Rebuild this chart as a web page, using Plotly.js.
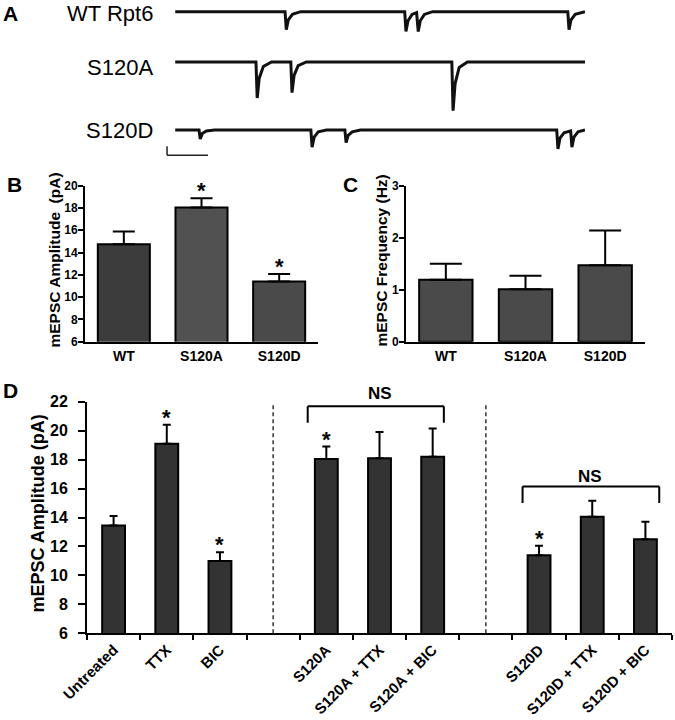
<!DOCTYPE html>
<html><head><meta charset="utf-8">
<script src="https://cdn.plot.ly/plotly-3.0.1.min.js"></script>
<style>html,body{margin:0;padding:0;background:#fff}#chart{width:675px;height:720px}</style>
</head><body><div id="chart"></div>
<script>
// ---------- Panel A: example mEPSC traces (time in s, current in pA) ----------
const wtTime    = [0, 2.68, 2.71, 2.76, 2.86, 3.06, 5.60, 5.63, 5.68, 5.78, 5.89, 5.93, 5.98, 6.08, 6.28, 9.58, 9.61, 9.66, 9.76, 9.96, 10.0];
const wtCurrent = [0, 0, -20, -9, -3, 0, 0, -22, -10, -3, -1, -22, -10, -3, 0, 0, -20, -9, -3, 0, 0];
const aTime     = [0, 1.97, 2.00, 2.05, 2.15, 2.35, 2.82, 2.85, 2.90, 3.00, 3.20, 6.75, 6.78, 6.83, 6.93, 7.13, 10.0];
const aCurrent  = [0, 0, -40, -18, -5, 0, 0, -34, -15, -4, 0, 0, -54, -24, -6, 0, 0];
const dTime     = [0, 0.58, 0.61, 0.66, 0.76, 0.96, 3.31, 3.34, 3.39, 3.49, 3.69, 4.14, 4.17, 4.22, 4.32, 4.52, 9.31, 9.34, 9.39, 9.49, 9.65, 9.68, 9.73, 9.83, 10.0];
const dCurrent  = [0, 0, -10, -4, -1, 0, 0, -19, -8, -2, 0, 0, -14, -6, -2, 0, 0, -21, -9, -3, -1, -19, -8, -2, 0];
const traceNames = ['WT Rpt6', 'S120A', 'S120D'];
const scaleBarSec = 1;
const scaleBarPA = 10;

// ---------- Panels B and C ----------
const groupsBC  = ['WT', 'S120A', 'S120D'];
const ampMeanB  = [14.75, 18.05, 11.40];
const ampSemB   = [1.15, 0.82, 0.68];
const sigB      = [false, true, true];
const freqMeanC = [1.19, 1.01, 1.47];
const freqSemC  = [0.31, 0.26, 0.67];
const titleB = 'mEPSC Amplitude\u00a0 (pA)';
const titleC = 'mEPSC Frequency (Hz)';

// ---------- Panel D ----------
const conditionsD = ['Untreated', 'TTX', 'BIC', ' ', 'S120A', 'S120A + TTX', 'S120A + BIC', '  ', 'S120D', 'S120D + TTX', 'S120D + BIC'];
const ampMeanD = [13.45, 19.10, 11.00, null, 18.05, 18.10, 18.20, null, 11.40, 14.05, 12.50];
const ampSemD  = [0.65, 1.30, 0.60, null, 0.85, 1.80, 1.95, null, 0.65, 1.10, 1.20];
const sigD     = [false, true, true, false, true, false, false, false, true, false, false];
const titleD = 'mEPSC Amplitude (pA)';
const nsLabel  = 'NS';

// ---------- styling ----------
const FAM = 'Liberation Sans, Arial, Helvetica, sans-serif';
const bold = (s) => ({family: FAM, size: s, color: '#000', weight: 'bold'});
const zeros = (a) => a.map(() => 0);

function errY(sem, w) {
  return {type: 'data', array: sem, arrayminus: zeros(sem), symmetric: false,
          visible: true, color: '#000', thickness: 2, width: w};
}

const traceLine = {color: '#111', width: 3};
const data = [
  {type: 'scatter', mode: 'lines', x: wtTime, y: wtCurrent, xaxis: 'x4', yaxis: 'y4', line: traceLine, hoverinfo: 'skip'},
  {type: 'scatter', mode: 'lines', x: aTime, y: aCurrent, xaxis: 'x5', yaxis: 'y5', line: traceLine, hoverinfo: 'skip'},
  {type: 'scatter', mode: 'lines', x: dTime, y: dCurrent, xaxis: 'x6', yaxis: 'y6', line: traceLine, hoverinfo: 'skip'},
  {type: 'bar', x: groupsBC, y: ampMeanB, xaxis: 'x', yaxis: 'y', width: 0.67,
   marker: {color: ['#3c3c3c', '#515151', '#4a4a4a'], line: {color: '#000', width: 2}},
   error_y: errY(ampSemB, 11)},
  {type: 'bar', x: groupsBC, y: freqMeanC, xaxis: 'x2', yaxis: 'y2', width: 0.67,
   marker: {color: '#4a4a4a', line: {color: '#000', width: 2}},
   error_y: errY(freqSemC, 16)},
  {type: 'bar', x: conditionsD, y: ampMeanD, xaxis: 'x3', yaxis: 'y3', width: 0.43,
   marker: {color: '#333333', line: {color: '#000', width: 2}},
   error_y: errY(ampSemD, 4)}
];

const py = (px) => 1 - px / 720;
const px_ = (px) => px / 675;
const hidden = {visible: false, showgrid: false, zeroline: false, fixedrange: true};

const baseX = {showline: true, linecolor: '#000', linewidth: 2, showgrid: false, zeroline: false,
               type: 'category', fixedrange: true};
const baseY = {showline: true, linecolor: '#000', linewidth: 2, showgrid: false, zeroline: false,
               ticks: 'outside', ticklen: 5, tickwidth: 2, tickcolor: '#000', fixedrange: true};

const layout = {
  width: 675, height: 720,
  margin: {l: 0, r: 0, t: 0, b: 0},
  paper_bgcolor: '#fff', plot_bgcolor: 'rgba(0,0,0,0)',
  showlegend: false,
  font: {family: FAM, color: '#000'},
  // Panel B
  xaxis: Object.assign({}, baseX, {domain: [px_(85), px_(318)], anchor: 'y', range: [-0.5, 2.5],
          ticks: '', tickfont: bold(14)}),
  yaxis: Object.assign({}, baseY, {domain: [py(341.7), py(185.7)], anchor: 'x', range: [6, 20], dtick: 2, tick0: 0,
          ticklabelstandoff: -2, tickfont: bold(12)}),
  // Panel C
  xaxis2: Object.assign({}, baseX, {domain: [px_(406), px_(645)], anchor: 'y2', range: [-0.5, 2.5],
          ticks: '', tickfont: bold(14)}),
  yaxis2: Object.assign({}, baseY, {domain: [py(341.7), py(185.7)], anchor: 'x2', range: [0, 3], dtick: 1, tick0: 0,
          ticklabelstandoff: -2, tickfont: bold(12)}),
  // Panel D
  xaxis3: Object.assign({}, baseX, {domain: [px_(87), px_(672)], anchor: 'y3', range: [-0.5, 10.5],
          categoryorder: 'array', categoryarray: conditionsD,
          ticks: 'outside', tickson: 'boundaries', ticklen: 5, tickwidth: 2, tickcolor: '#000',
          tickangle: -45, tickfont: bold(15)}),
  yaxis3: Object.assign({}, baseY, {domain: [py(633.3), py(401.7)], anchor: 'x3', range: [6, 22], dtick: 2, tick0: 0,
          ticklen: 7, ticklabelstandoff: 7, tickfont: bold(16)}),
  // Panel A traces
  xaxis4: Object.assign({}, hidden, {domain: [px_(165), px_(585)], anchor: 'y4', range: [-0.25, 10]}),
  yaxis4: Object.assign({}, hidden, {domain: [py(38.7), py(4.5)], anchor: 'x4', range: [-30, 8]}),
  xaxis5: Object.assign({}, hidden, {domain: [px_(165), px_(585)], anchor: 'y5', range: [-0.25, 10]}),
  yaxis5: Object.assign({}, hidden, {domain: [py(116), py(54.8)], anchor: 'x5', range: [-60, 8]}),
  xaxis6: Object.assign({}, hidden, {domain: [px_(165), px_(585)], anchor: 'y6', range: [-0.25, 10]}),
  yaxis6: Object.assign({}, hidden, {domain: [py(158.8), py(122.8)], anchor: 'x6', range: [-32, 8]}),
  shapes: [],
  annotations: []
};

// y-axis titles (placed precisely next to the tick labels)
[[titleB, 54, 260.5, 15.5], [titleC, 381, 260.5, 15.5], [titleD, 37, 513.5, 18]].forEach(t => {
  layout.annotations.push({xref: 'paper', yref: 'paper', x: px_(t[1]), y: py(t[2]), text: t[0], textangle: -90,
    showarrow: false, xanchor: 'center', yanchor: 'middle', font: bold(t[3])});
});

// scale bar (panel A)
const sbY = -28, sbX = -0.2;
layout.shapes.push(
  {type: 'line', xref: 'x6', yref: 'y6', x0: sbX, x1: sbX + scaleBarSec, y0: sbY, y1: sbY, line: {color: '#222', width: 1.5}},
  {type: 'line', xref: 'x6', yref: 'y6', x0: sbX, x1: sbX, y0: sbY, y1: sbY + scaleBarPA, line: {color: '#222', width: 1.5}}
);

// dashed separators in D (at the empty category slots)
conditionsD.forEach((c, i) => {
  if (c.trim() === '') {
    layout.shapes.push({type: 'line', xref: 'x3', yref: 'y3', x0: i, x1: i, y0: 6, y1: 21.9,
      line: {color: '#333', width: 1.5, dash: '4px,3px'}});
  }
});

// NS brackets in D
const brackets = [
  {x0: 3.65, x1: 6.21, top: 21.68, leg: 20.55, lx: 5.0, shift: 1},
  {x0: 7.69, x1: 10.26, top: 16.15, leg: 15.0, lx: 8.96, shift: -2}
];
brackets.forEach(b => {
  const ln = {color: '#000', width: 2};
  layout.shapes.push(
    {type: 'line', xref: 'x3', yref: 'y3', x0: b.x0, x1: b.x1, y0: b.top, y1: b.top, line: ln},
    {type: 'line', xref: 'x3', yref: 'y3', x0: b.x0, x1: b.x0, y0: b.top, y1: b.leg, line: ln},
    {type: 'line', xref: 'x3', yref: 'y3', x0: b.x1, x1: b.x1, y0: b.top, y1: b.leg, line: ln}
  );
  layout.annotations.push({xref: 'x3', yref: 'y3', x: b.lx, y: b.top, text: nsLabel, showarrow: false,
    yanchor: 'bottom', yshift: b.shift, font: bold(17)});
});

// significance stars
function star(xref, yref, x, y) {
  return {xref: xref, yref: yref, x: x, y: y, text: '*', showarrow: false, yanchor: 'bottom',
          yshift: -7, font: bold(22)};
}
groupsBC.forEach((g, i) => { if (sigB[i]) layout.annotations.push(star('x', 'y', g, ampMeanB[i] + ampSemB[i])); });
conditionsD.forEach((g, i) => { if (sigD[i]) layout.annotations.push(star('x3', 'y3', g, ampMeanD[i] + ampSemD[i])); });

// trace labels (panel A)
const traceLabelY = [13, 67, 130];
traceNames.forEach((t, i) => {
  layout.annotations.push({xref: 'paper', yref: 'paper', x: px_(155), y: py(traceLabelY[i]), text: t,
    showarrow: false, xanchor: 'right', yanchor: 'middle', font: {family: FAM, size: 22, color: '#000'}});
});

// panel letters
[['A', 10, 13.5], ['B', 14, 185], ['C', 350, 185], ['D', 10, 390]].forEach(p => {
  layout.annotations.push({xref: 'paper', yref: 'paper', x: px_(p[1]), y: py(p[2]), text: p[0], showarrow: false,
    xanchor: 'center', yanchor: 'middle', font: bold(21)});
});

Plotly.newPlot('chart', data, layout, {staticPlot: true, displayModeBar: false});
</script>
</body></html>
